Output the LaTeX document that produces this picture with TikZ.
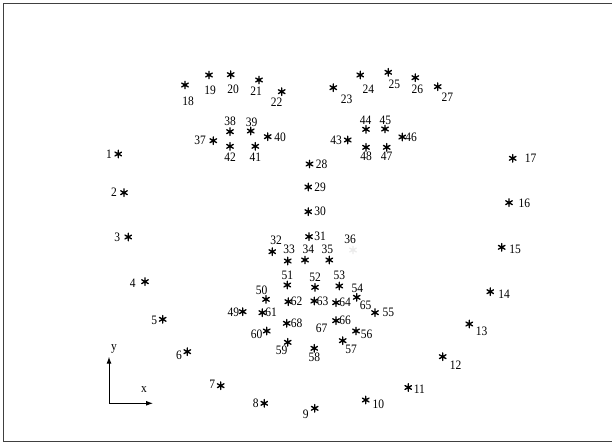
\documentclass[tikz,border=0pt]{standalone}
\usepackage{graphicx}
\usepackage{fontspec}
\setmainfont{Liberation Serif}
\usetikzlibrary{arrows.meta}
\tikzset{
  st/.style={shape=circle, minimum size=10pt, inner sep=0pt,
    path picture={\fill[#1, shift={(path picture bounding box.center)}] (0,0) circle (1.3pt);
      \draw[line width=1.35pt, line cap=round, shift={(path picture bounding box.center)}, #1]
      (90:3.8pt) -- (270:3.8pt) (30:3.8pt) -- (210:3.8pt) (150:3.8pt) -- (330:3.8pt);}},
  st/.default=black,
  lb/.style={font=\fontsize{11.5}{11.5}\selectfont, inner sep=0pt},
  axis/.style={line width=1pt, -{Latex[length=7pt,width=5pt]}},
  frame/.style={draw=black!75, line width=1.4pt}
}
\newcommand{\vs}[1]{\scalebox{1}[1.12]{#1}}
\begin{document}
\begin{tikzpicture}[x=1pt,y=-1pt]
\useasboundingbox (0,0) rectangle (612,443);
\draw[frame] (3.5,441.5) -- (3.5,3.5) -- (612,3.5);
\draw[frame] (3.5,441.5) -- (612,441.5);
\foreach \i/\sx/\sy/\lx/\ly in {
 1/118.3/154/109/154, 2/124/192.7/114/192.7, 3/128.3/237/117.3/237.5,
 4/145/281.7/132.7/283.3, 5/162.7/319.3/154.3/320.7, 6/187.3/351.7/179/355,
 7/220.7/385.7/212.3/384, 8/264.3/403.3/255.7/403.3, 9/314.7/408.3/305.7/414.3,
 10/365.7/400/378.3/404.3, 11/408.3/387.5/419.3/389.3, 12/442.7/356.7/455.7/365.7,
 13/469.3/324/481.7/331.7, 14/490.3/291.7/504/294, 15/501.7/247.3/515/249,
 16/509/202.7/524.3/203.3, 17/512.7/158.3/530.7/158.3,
 18/185/85/188/101, 19/209/75/210/90, 20/230.7/74.7/233/89, 21/259/80/256/91,
 22/281.7/91.7/276.7/102, 23/333.3/87.7/346.7/99.3, 24/360.3/75/368.3/89.3,
 25/388.3/72.3/394.3/84, 26/415.3/77.7/417.3/89.7, 27/437.7/86.7/447.3/97.7,
 28/309.5/164/321.7/164, 29/308.3/187/320/187, 30/308.3/211.7/320/211.7,
 31/309/236.7/320/236.7, 32/272.3/251.7/276/240, 33/287.7/261/289/249.3,
 34/305/260/308.3/249.3, 35/329.3/260/327.3/249,
 37/213.3/140.7/200/140.7, 38/230/131.7/230/121.7, 39/250.7/131/251.7/122,
 40/267.7/136.7/280/137, 41/255.3/146.3/255.3/157.3, 42/230/146.3/230/157.3,
 43/347.7/140/336/140, 44/366/129.3/365.7/120.7, 45/385/129/385.3/120.7,
 46/402.3/137/411/137, 47/386.7/147.3/386.7/156, 48/366/147.3/366/156,
 49/242.7/311.7/233.3/312.7, 50/266/299.3/261.7/290, 51/287.3/285/287.3/275,
 52/315/287.3/315/277.3, 53/339.3/286/339.3/275, 54/356.7/297.3/357.3/288.3,
 55/375/312.7/388.3/312.7, 56/356/331/366.7/334.3, 57/342.7/340.7/351/349,
 58/314.3/348.3/314.3/357.3, 59/287.7/342.3/281.7/350, 60/266.7/331/256.7/334,
 61/262.3/312.7/271/312.7, 62/288.3/301.7/296.7/301.7, 63/314.3/301/322.7/301,
 64/336/302.7/345/302.7, 66/336/320.7/345/320.7, 68/286.7/323.3/296.7/323.3}
{
  \node[st] (s\i) at (\sx,\sy) {};
  \node[lb] (n\i) at (\lx,\ly) {\vs{\i}};
}
\node[st=black!8] (s36) at (353,250) {};
\node[lb] (n36) at (350,239) {\vs{36}};
\node[lb] (n65) at (365.7,305.7) {\vs{65}};
\node[lb] (n67) at (321.7,328.3) {\vs{67}};
% axes
\coordinate (o) at (109,403.3);
\coordinate (ytip) at (109,356.7);
\coordinate (xtip) at (153,403.3);
\draw[axis] (o) -- (ytip);
\draw[axis] (o) -- (xtip);
\node[lb] (ylab) at (114,349.3) {\vs{y}};
\node[lb] (xlab) at (144,389.3) {\vs{x}};
\end{tikzpicture}
\end{document}
